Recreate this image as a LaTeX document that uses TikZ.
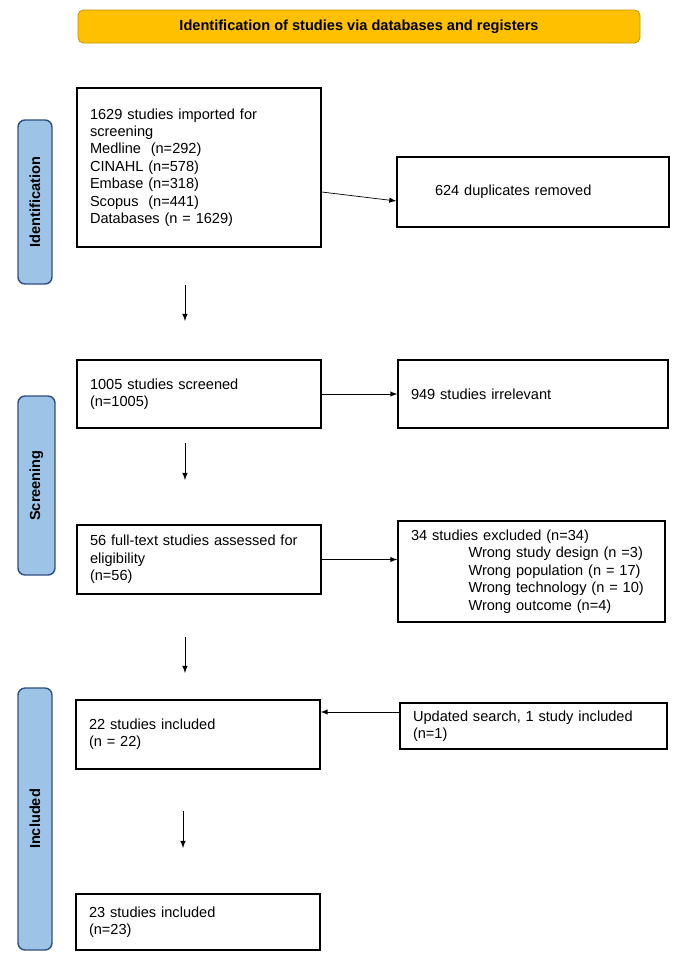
\documentclass[tikz,border=0pt]{standalone}
\usepackage{fontspec}
\setmainfont{Liberation Sans}
\usetikzlibrary{arrows,positioning}
\definecolor{bannerfill}{HTML}{FFC000}
\definecolor{bannerline}{HTML}{BF9000}
\definecolor{sidefill}{HTML}{9DC3E6}
\definecolor{sideline}{HTML}{2F4F7F}
\tikzstyle{box}=[rectangle,draw=black,thick,align=left,inner xsep=0.26cm,inner ysep=0pt,
font=\fontsize{8.3}{9.9}\selectfont]
\tikzstyle{banner}=[rectangle,rounded corners=3pt,draw=bannerline,fill=bannerfill,
font=\bfseries\fontsize{8.3}{9.9}\selectfont,minimum width=11.24cm,minimum height=0.66cm]
\tikzstyle{side}=[rectangle,rounded corners=4pt,draw=sideline,thick,fill=sidefill,rotate=90,
font=\bfseries\fontsize{8.3}{9.9}\selectfont]
\begin{document}
\begin{tikzpicture}[>=latex]
            \useasboundingbox (0,0) rectangle (13.7,-19.28);

            % header and phases
            \node[banner] (head) at (7.18,-0.53) {Identification of studies via databases and registers};
            \node[side,minimum width=3.28cm,minimum height=0.68cm] (ident) at (0.7,-4.04) {Identification};
            \node[side,minimum width=3.58cm,minimum height=0.74cm] (screen) at (0.73,-9.71) {Screening};
            \node[side,minimum width=5.24cm,minimum height=0.68cm] (incl) at (0.7,-16.38) {Included};

            % main column
            \node[box,text width=4.36cm,minimum height=3.18cm] (imported) at (3.98,-3.35)
                {1629 studies imported for\\screening\\Medline\ \ (n=292)\\CINAHL (n=578)\\Embase (n=318)\\Scopus\ \ (n=441)\\Databases (n = 1629)};
            \node[box,text width=4.36cm,minimum height=1.36cm] (screened) at (3.98,-7.88)
                {1005 studies screened\\(n=1005)};
            \node[box,text width=4.36cm,minimum height=1.38cm] (assessed) at (3.98,-11.19)
                {56 full-text studies assessed for\\eligibility\\(n=56)};
            \node[box,text width=4.36cm,minimum height=1.38cm] (included) at (3.96,-14.69)
                {22 studies included\\(n = 22)\\[0.45cm]};
            \node[box,text width=4.36cm,minimum height=1.12cm] (final) at (3.96,-18.44)
                {23 studies included\\(n=23)};

            % right column
            \node[box,text width=4.92cm,minimum height=1.4cm] (dupl) at (10.66,-3.84)
                {\hspace*{0.5cm}624 duplicates removed};
            \node[box,text width=4.88cm,minimum height=1.36cm] (irrel) at (10.66,-7.88)
                {949 studies irrelevant};
            \node[box,text width=4.82cm,minimum height=2.02cm] (excl) at (10.63,-11.43)
                {34 studies excluded (n=34)\\
                 \hspace*{1.15cm}Wrong study design (n =3)\\
                 \hspace*{1.15cm}Wrong population (n = 17)\\
                 \hspace*{1.15cm}Wrong technology (n = 10)\\
                 \hspace*{1.15cm}Wrong outcome (n=4)};
            \node[box,text width=4.82cm,minimum height=0.92cm] (update) at (10.67,-14.52)
                {Updated search, 1 study included\\(n=1)};

            % free arrows between stages
            \coordinate (d1s) at (3.7,-5.7);  \coordinate (d1e) at (3.7,-6.42);
            \coordinate (d2s) at (3.7,-8.86); \coordinate (d2e) at (3.7,-9.6);
            \coordinate (d3s) at (3.7,-12.74);\coordinate (d3e) at (3.7,-13.46);
            \coordinate (d4s) at (3.66,-16.22);\coordinate (d4e) at (3.66,-16.96);

            \path[->] (d1s) edge (d1e);
            \path[->] (d2s) edge (d2e);
            \path[->] (d3s) edge (d3e);
            \path[->] (d4s) edge (d4e);

            % side arrows
            \path[->] (imported.east |- dupl.west) edge ([yshift=-0.18cm]dupl.west);
            \path[->] (screened.east) edge (screened.east -| irrel.west);
            \path[->] (assessed.east) edge (assessed.east -| excl.west);
            \path[->] ([yshift=0.28cm]update.west) edge ([yshift=0.28cm]update.west -| included.east);

\end{tikzpicture}
\end{document}
